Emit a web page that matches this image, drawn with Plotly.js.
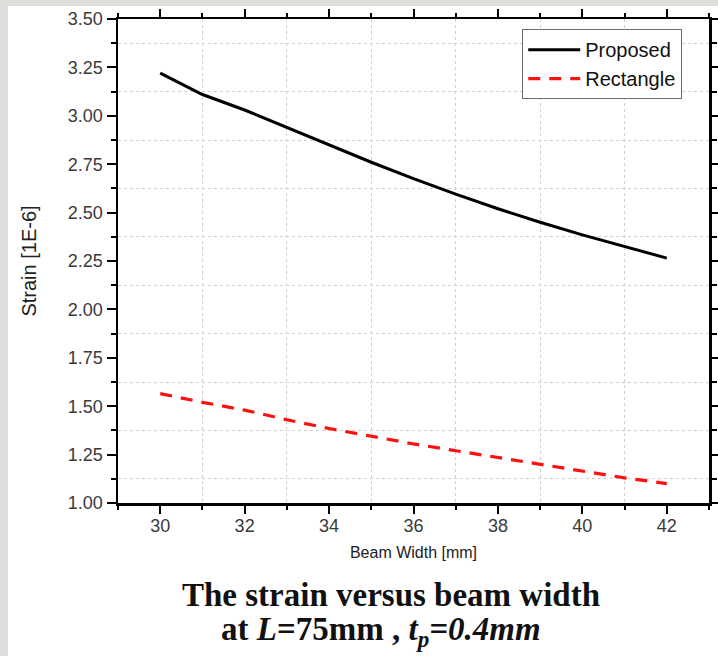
<!DOCTYPE html>
<html>
<head>
<meta charset="utf-8">
<script src="https://cdn.plot.ly/plotly-3.0.1.min.js"></script>
<style>
  html, body { margin: 0; padding: 0; background: #ffffff; }
  #chart { width: 718px; height: 656px; }
</style>
</head>
<body>
<div id="chart"></div>
<script>
// Beam width sweep [mm]
const beamWidth = [30, 31, 32, 33, 34, 35, 36, 37, 38, 39, 40, 41, 42];
// Strain of the proposed beam shape [1E-6]
const strainProposed = [3.22, 3.11, 3.03, 2.94, 2.85, 2.76, 2.675, 2.595, 2.52, 2.45, 2.385, 2.325, 2.265];
// Strain of the rectangular beam [1E-6]
const strainRectangle = [1.565, 1.52, 1.48, 1.43, 1.385, 1.345, 1.305, 1.27, 1.235, 1.198, 1.162, 1.13, 1.10];

const seriesNames = ['Proposed', 'Rectangle'];
const xTitle = 'Beam Width [mm]';
const yTitle = 'Strain [1E-6]';
const captionLine1 = '<b>The strain versus beam width</b>';
const captionLine2 = '<b>at <i>L</i>=75mm , <i>t</i><sub><i>p</i></sub><i>=0.4mm</i></b>';

const xRange = [29, 43];
const yRange = [1, 3.5];

const sans = 'Liberation Sans, Arial, sans-serif';
const serif = 'Liberation Serif, Times New Roman, serif';

const traces = [
  {
    x: beamWidth, y: strainProposed, name: seriesNames[0], legendgroup: 'a',
    type: 'scatter', mode: 'lines',
    line: { color: '#000000', width: 3 }
  },
  {
    x: beamWidth, y: strainRectangle, name: seriesNames[1], legendgroup: 'b',
    type: 'scatter', mode: 'lines',
    line: { color: '#ff1010', width: 3.2, dash: '12px,9px' }
  }
];

const layout = {
  width: 718, height: 656,
  margin: { l: 118, r: 9, t: 19, b: 153 },
  paper_bgcolor: '#dededa',
  plot_bgcolor: '#ffffff',
  font: { family: sans, size: 18, color: '#3a3a3a' },
  showlegend: true,
  legend: {
    x: 0.684, y: 0.979, xanchor: 'left', yanchor: 'top',
    bgcolor: '#ffffff', bordercolor: '#6e6e6e', borderwidth: 1,
    font: { family: sans, size: 20, color: '#111111' },
    itemwidth: 52, tracegroupgap: 0
  },
  xaxis: {
    range: xRange, tick0: 30, dtick: 2,
    ticks: 'outside', ticklen: 8, tickwidth: 2, tickcolor: '#000',
    showline: true, linecolor: '#000', linewidth: 2.5, mirror: 'allticks',
    showgrid: false, zeroline: false,
    tickfont: { family: sans, size: 18, color: '#3a3a3a' },
    ticklabelstandoff: -3,
    minor: { tick0: 31, dtick: 2, ticks: 'outside', ticklen: 4, tickwidth: 2, tickcolor: '#000',
             showgrid: true, gridcolor: '#d0d0d0', griddash: 'dot', gridwidth: 1 },
    title: { text: xTitle, font: { family: sans, size: 16, color: '#222' }, standoff: 12 }
  },
  yaxis: {
    range: yRange, tick0: 1, dtick: 0.25, tickformat: '.2f',
    ticks: 'outside', ticklen: 9, tickwidth: 2, tickcolor: '#000',
    showline: true, linecolor: '#000', linewidth: 2.5, mirror: 'allticks',
    showgrid: false, zeroline: false,
    tickfont: { family: sans, size: 18, color: '#3a3a3a' },
    minor: { tick0: 1.125, dtick: 0.25, ticks: 'outside', ticklen: 5, tickwidth: 2, tickcolor: '#000',
             showgrid: true, gridcolor: '#d0d0d0', griddash: 'dot', gridwidth: 1 },
    title: { text: yTitle, font: { family: sans, size: 20, color: '#222' }, standoff: 26 }
  },
  // inward halves of the crossing ticks on the top and right frame edges
  xaxis2: {
    overlaying: 'x', anchor: 'y', side: 'top', range: xRange,
    tick0: 30, dtick: 2, ticks: 'inside', ticklen: 9, tickwidth: 2, tickcolor: '#000',
    showticklabels: false, showgrid: false, zeroline: false, showline: false,
    minor: { tick0: 31, dtick: 2, ticks: 'inside', ticklen: 4, tickwidth: 2, tickcolor: '#000' }
  },
  yaxis2: {
    overlaying: 'y', anchor: 'x', side: 'right', range: yRange,
    tick0: 1, dtick: 0.25, ticks: 'inside', ticklen: 9, tickwidth: 2, tickcolor: '#000',
    showticklabels: false, showgrid: false, zeroline: false, showline: false,
    minor: { tick0: 1.125, dtick: 0.25, ticks: 'inside', ticklen: 5, tickwidth: 2, tickcolor: '#000' }
  },
  shapes: [
    {
      type: 'rect', xref: 'paper', yref: 'paper', layer: 'below',
      x0: -0.1861, x1: 1.02, y0: -0.32, y1: 1.0269,
      fillcolor: '#ffffff', line: { width: 0 }
    }
  ],
  annotations: [
    {
      text: captionLine1, xref: 'paper', yref: 'paper',
      x: (391 - 118) / 591, y: (503 - 595) / 484, xanchor: 'center', yanchor: 'middle',
      showarrow: false,
      font: { family: serif, size: 33, color: '#111' }
    },
    {
      text: captionLine2, xref: 'paper', yref: 'paper',
      x: (381 - 118) / 591, y: (503 - 631) / 484, xanchor: 'center', yanchor: 'middle',
      showarrow: false,
      font: { family: serif, size: 33, color: '#111' }
    }
  ]
};

Plotly.newPlot('chart', traces, layout, { displayModeBar: false, staticPlot: true });
</script>
</body>
</html>
